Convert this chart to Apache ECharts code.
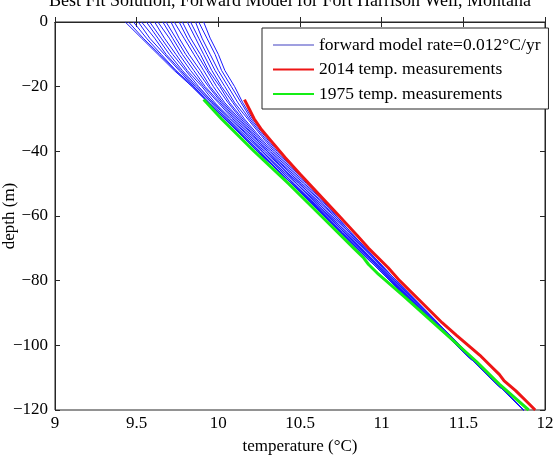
<!DOCTYPE html>
<html>
<head>
<meta charset="utf-8">
<script src="https://cdn.jsdelivr.net/npm/echarts@6/dist/echarts.min.js"></script>
<style>
html,body{margin:0;padding:0;background:#fff;}
#chart{width:557px;height:462px;}
</style>
</head>
<body>
<div id="chart"></div>
<script>
// depths (m) shared by every forward model curve
var depths = [0, -5, -10, -15, -20, -25, -30, -40, -50, -65, -80, -100, -120];

// forward model curves, temperature at each depth (left to right)
var forwardTemps = [
	[9.43, 9.53, 9.63, 9.73, 9.84, 9.94, 10.04, 10.24, 10.45, 10.75, 11.05, 11.46, 11.87],
	[9.45, 9.54, 9.64, 9.74, 9.84, 9.94, 10.04, 10.24, 10.45, 10.75, 11.05, 11.46, 11.87],
	[9.48, 9.56, 9.65, 9.74, 9.85, 9.94, 10.04, 10.24, 10.45, 10.75, 11.05, 11.46, 11.87],
	[9.51, 9.58, 9.67, 9.76, 9.85, 9.95, 10.05, 10.24, 10.45, 10.75, 11.05, 11.46, 11.87],
	[9.53, 9.61, 9.68, 9.77, 9.86, 9.96, 10.05, 10.25, 10.45, 10.75, 11.05, 11.46, 11.87],
	[9.56, 9.63, 9.70, 9.78, 9.87, 9.97, 10.06, 10.25, 10.45, 10.75, 11.05, 11.46, 11.87],
	[9.58, 9.65, 9.72, 9.80, 9.88, 9.97, 10.07, 10.26, 10.46, 10.75, 11.05, 11.46, 11.87],
	[9.61, 9.67, 9.74, 9.81, 9.90, 9.98, 10.08, 10.27, 10.46, 10.75, 11.05, 11.46, 11.87],
	[9.63, 9.70, 9.76, 9.83, 9.91, 10.00, 10.09, 10.27, 10.46, 10.76, 11.06, 11.46, 11.87],
	[9.66, 9.72, 9.78, 9.85, 9.92, 10.01, 10.10, 10.28, 10.47, 10.76, 11.06, 11.46, 11.87],
	[9.68, 9.74, 9.80, 9.87, 9.94, 10.02, 10.11, 10.29, 10.48, 10.77, 11.06, 11.46, 11.87],
	[9.71, 9.76, 9.82, 9.89, 9.95, 10.03, 10.12, 10.30, 10.48, 10.77, 11.06, 11.46, 11.87],
	[9.73, 9.79, 9.85, 9.91, 9.97, 10.04, 10.13, 10.30, 10.49, 10.77, 11.07, 11.46, 11.87],
	[9.76, 9.81, 9.87, 9.93, 9.99, 10.06, 10.14, 10.31, 10.50, 10.78, 11.07, 11.46, 11.87],
	[9.78, 9.83, 9.89, 9.94, 10.01, 10.07, 10.15, 10.32, 10.50, 10.78, 11.07, 11.47, 11.87],
	[9.81, 9.86, 9.91, 9.96, 10.02, 10.09, 10.16, 10.33, 10.51, 10.79, 11.08, 11.47, 11.87],
	[9.83, 9.88, 9.93, 9.98, 10.04, 10.10, 10.18, 10.34, 10.52, 10.80, 11.08, 11.47, 11.87],
	[9.86, 9.90, 9.95, 10.00, 10.06, 10.12, 10.19, 10.35, 10.53, 10.80, 11.09, 11.47, 11.87],
	[9.88, 9.93, 9.98, 10.02, 10.08, 10.14, 10.20, 10.36, 10.54, 10.81, 11.09, 11.48, 11.87],
	[9.91, 9.95, 10.00, 10.04, 10.10, 10.15, 10.21, 10.37, 10.55, 10.81, 11.09, 11.48, 11.87]
];

// 2014 measurements
var depth2014 = [-24, -27, -30, -33, -36, -42, -47, -53, -60, -66, -70, -76, -80, -83, -88, -93, -97, -100, -103, -106, -109, -111, -114, -117, -120];
var temp2014 = [10.16, 10.19, 10.22, 10.26, 10.31, 10.41, 10.50, 10.61, 10.74, 10.85, 10.92, 11.04, 11.11, 11.17, 11.27, 11.37, 11.46, 11.53, 11.60, 11.66, 11.72, 11.75, 11.82, 11.88, 11.94];

// 1975 measurements
var depth1975 = [-24, -30, -40, -50, -60, -70, -73, -75, -78, -85, -95, -105, -112, -120];
var temp1975 = [9.91, 10.02, 10.22, 10.43, 10.63, 10.83, 10.89, 10.92, 10.98, 11.14, 11.36, 11.58, 11.72, 11.90];

var FONT = "Liberation Serif";
var modelName = "forward model rate=0.012°C/yr";
var name2014 = "2014 temp. measurements";
var name1975 = "1975 temp. measurements";

//拼成 [x,y]
function toPoints(temps, deps){
	var arr = [];
	for(var i=0;i<temps.length;i++){
		arr.push([temps[i], deps[i]]);
	}
	return arr;
}

function getSeries(){
	var list = [];
	for(var k=0;k<forwardTemps.length;k++){
		list.push({
			name: modelName, type: 'line', symbol: 'none', silent: true, z: 2,
			data: toPoints(forwardTemps[k], depths),
			lineStyle: {color: '#1a1aff', width: 1},
			itemStyle: {color: '#1a1aff'}
		});
	}
	list.push({
		name: name2014, type: 'line', symbol: 'none', silent: true, z: 3,
		data: toPoints(temp2014, depth2014),
		lineStyle: {color: '#ee1515', width: 3},
		itemStyle: {color: '#ee1515'}
	});
	list.push({
		name: name1975, type: 'line', symbol: 'none', silent: true, z: 4,
		data: toPoints(temp1975, depth1975),
		lineStyle: {color: '#15ee15', width: 3},
		itemStyle: {color: '#15ee15'}
	});
	return list;
}

function axisBase(){
	return {
		type: 'value',
		nameMoveOverlap: false,
		axisLine: {show: true, lineStyle: {color: '#262626', width: 1}},
		axisTick: {show: true, inside: true, length: 5, lineStyle: {color: '#262626'}},
		splitLine: {show: false}
	};
}

var xBottom = axisBase();
xBottom.min = 9; xBottom.max = 12; xBottom.interval = 0.5; xBottom.position = 'bottom';
xBottom.axisLabel = {color: '#000', fontFamily: FONT, fontSize: 17, margin: 5};
xBottom.name = 'temperature (°C)';
xBottom.nameLocation = 'middle';
xBottom.nameGap = 28;
xBottom.nameTextStyle = {color: '#000', fontFamily: FONT, fontSize: 17};

var xTop = axisBase();
xTop.min = 9; xTop.max = 12; xTop.interval = 0.5; xTop.position = 'top';
xTop.axisLabel = {show: false};

var yLeft = axisBase();
yLeft.min = -120; yLeft.max = 0; yLeft.interval = 20; yLeft.position = 'left';
yLeft.axisLabel = {color: '#000', fontFamily: FONT, fontSize: 17, margin: 7,
	formatter: function(v){ return String(v).replace('-', '\u2212'); }};
yLeft.name = 'depth (m)';
yLeft.nameLocation = 'middle';
yLeft.nameRotate = 90;
yLeft.nameGap = 37;
yLeft.nameTextStyle = {color: '#000', fontFamily: FONT, fontSize: 17};

var yRight = axisBase();
yRight.min = -120; yRight.max = 0; yRight.interval = 20; yRight.position = 'right';
yRight.axisLabel = {show: false};

var myChart = echarts.init(document.getElementById('chart'), null, {renderer: 'canvas'});
myChart.setOption({
	animation: false,
	backgroundColor: '#fff',
	title: {
		text: 'Best Fit Solution, Forward Model for Fort Harrison Well, Montana',
		left: 49, top: -8, padding: 0,
		textStyle: {color: '#000', fontFamily: FONT, fontSize: 18, fontWeight: 'normal'}
	},
	grid: {left: 55, right: 12, top: 22, bottom: 52, containLabel: false, outerBoundsMode: 'none',
		show: true, borderColor: '#262626', borderWidth: 1, backgroundColor: '#fff'},
	legend: {
		orient: 'vertical', left: 262, top: 28,
		itemWidth: 41, itemHeight: 14, itemGap: 6.5,
		padding: [8, 8, 6, 10],
		backgroundColor: '#fff', borderColor: '#262626', borderWidth: 1, borderRadius: 0,
		itemStyle: {opacity: 0},
		textStyle: {color: '#000', fontFamily: FONT, fontSize: 17.5},
		data: [
			{name: modelName, lineStyle: {color: '#7f7fd6', width: 1.5}},
			{name: name2014},
			{name: name1975}
		]
	},
	xAxis: [xBottom, xTop],
	yAxis: [yLeft, yRight],
	series: getSeries()
});
</script>
</body>
</html>
